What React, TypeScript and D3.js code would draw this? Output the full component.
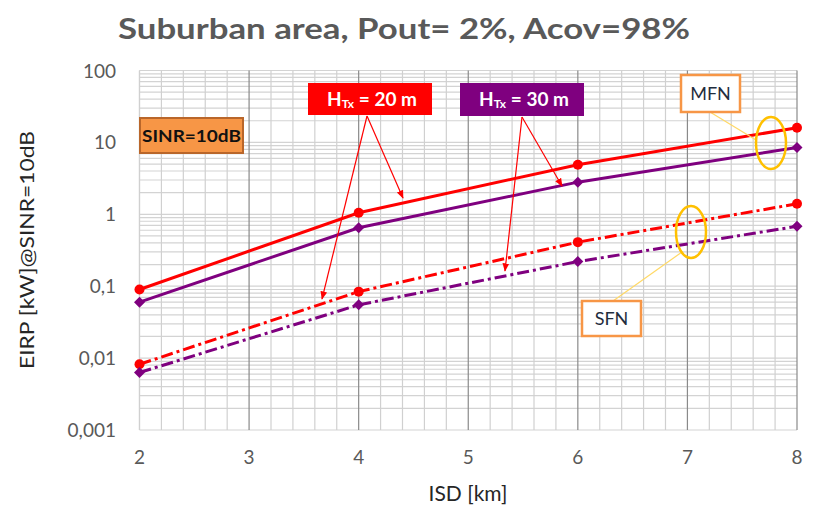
import React from "react";
import * as d3 from "d3";

const isd = [2, 4, 6, 8];
const mfn20 = [0.09, 1.05, 4.9, 16];
const mfn30 = [0.06, 0.65, 2.8, 8.5];
const sfn20 = [0.0082, 0.084, 0.41, 1.4];
const sfn30 = [0.0063, 0.055, 0.22, 0.68];
const xTicks = [2, 3, 4, 5, 6, 7, 8];
const yTicks = [100, 10, 1, 0.1, 0.01, 0.001];
const yTickLabels = ["100", "10", "1", "0,1", "0,01", "0,001"];

const W = 814, H = 505;
const left = 139.5, right = 797, top = 70.5, bottom = 430;

export default function App() {
  const x = d3.scaleLinear().domain([2, 8]).range([left, right]);
  const y = d3.scaleLog().domain([0.001, 100]).range([bottom, top]);
  const line = d3.line<number>().x((_, i) => x(isd[i])).y((d) => y(d));

  const minorX = d3.range(2, 8.001, 0.2).map((v) => +v.toFixed(1));
  const minorY: number[] = [];
  for (let e = -3; e < 2; e++) for (let k = 1; k <= 9; k++) minorY.push(k * Math.pow(10, e));
  minorY.push(100);

  const red = "#ff0000";
  const purple = "#7f007f";
  const dashDot = "12 4 3 4";
  const diamond = (cx: number, cy: number, s: number) =>
    `M${cx},${cy - s}L${cx + s},${cy}L${cx},${cy + s}L${cx - s},${cy}Z`;

  const series = [
    { v: mfn20, c: red, dash: undefined, m: "circle" },
    { v: mfn30, c: purple, dash: undefined, m: "diamond" },
    { v: sfn20, c: red, dash: dashDot, m: "circle" },
    { v: sfn30, c: purple, dash: dashDot, m: "diamond" },
  ];

  const font = "Lato, 'Open Sans', sans-serif";

  return (
    <svg width={W} height={H} style={{ position: "absolute", left: 0, top: 0, background: "#fff" }}>
      <defs>
        <marker id="arr" viewBox="0 0 10 10" refX="9" refY="5" markerWidth="7" markerHeight="7" orient="auto">
          <path d="M0,1L10,5L0,9Z" fill={red} />
        </marker>
      </defs>
      <rect width={W} height={H} fill="#fff" />
      <text x={404} y={39} textAnchor="middle" fontFamily={font} fontWeight={700} fontSize={28}
        fill="#595959" textLength={572} lengthAdjust="spacingAndGlyphs">
        Suburban area, Pout= 2%, Acov=98%
      </text>

      {/* grid */}
      {minorY.map((v, i) => (
        <line key={"hy" + i} x1={left} x2={right} y1={y(v)} y2={y(v)} stroke="#d3d3d3" strokeWidth={1.2} />
      ))}
      {minorX.map((v, i) => (
        <line key={"vx" + i} x1={x(v)} x2={x(v)} y1={top} y2={bottom}
          stroke={Math.abs(v - Math.round(v)) < 1e-6 && v > 2 ? "#8a8a8a" : "#d0d0d0"} strokeWidth={1.2} />
      ))}
      <line x1={left} x2={left} y1={top} y2={bottom} stroke="#d0d0d0" strokeWidth={1.2} />

      {/* y ticks */}
      {yTicks.map((v, i) => (
        <text key={"yt" + i} x={116} y={y(v) + 7} textAnchor="end" fontFamily={font} fontSize={19} fill="#595959">
          {yTickLabels[i]}
        </text>
      ))}
      {xTicks.map((v) => (
        <text key={"xt" + v} x={x(v)} y={464} textAnchor="middle" fontFamily={font} fontSize={19} fill="#595959">
          {v}
        </text>
      ))}
      <text x={468} y={501} textAnchor="middle" fontFamily={font} fontSize={21} fill="#262626">ISD [km]</text>
      <text transform="translate(34,250) rotate(-90)" textAnchor="middle" fontFamily={font} fontSize={20}
        fill="#262626" textLength={238} lengthAdjust="spacingAndGlyphs">
        EIRP [kW]@SINR=10dB
      </text>

      {/* series */}
      {series.map((s, si) => (
        <g key={"s" + si}>
          <path d={line(s.v) || ""} fill="none" stroke={s.c} strokeWidth={3} strokeDasharray={s.dash} />
          {s.v.map((d, i) =>
            s.m === "circle" ? (
              <circle key={i} cx={x(isd[i])} cy={y(d)} r={5} fill={s.c} />
            ) : (
              <path key={i} d={diamond(x(isd[i]), y(d), 5.5)} fill={s.c} />
            )
          )}
        </g>
      ))}

      {/* SINR box */}
      <rect x={140} y={118} width={103} height={35} fill="#f79646" stroke="#b9662a" strokeWidth={2} />
      <text x={191.5} y={142} textAnchor="middle" fontFamily={font} fontWeight={700} fontSize={17} fill="#111"
        textLength={99} lengthAdjust="spacingAndGlyphs">
        SINR=10dB
      </text>

      {/* HTx boxes */}
      <rect x={308} y={83} width={124} height={32} fill={red} />
      <text x={372} y={106} textAnchor="middle" fontFamily={font} fontWeight={700} fontSize={19} fill="#fff">
        H<tspan fontSize={12} dy={2}>Tx</tspan><tspan dy={-2}> = 20 m</tspan>
      </text>
      <rect x={460} y={83} width={124} height={33} fill={purple} />
      <text x={524} y={106} textAnchor="middle" fontFamily={font} fontWeight={700} fontSize={19} fill="#fff">
        H<tspan fontSize={12} dy={2}>Tx</tspan><tspan dy={-2}> = 30 m</tspan>
      </text>

      {/* arrows */}
      <line x1={367} y1={116} x2={403} y2={198} stroke={red} strokeWidth={1.2} markerEnd="url(#arr)" />
      <line x1={367} y1={116} x2={322} y2={299} stroke={red} strokeWidth={1.2} markerEnd="url(#arr)" />
      <line x1={522} y1={117} x2={562} y2={186} stroke={red} strokeWidth={1.2} markerEnd="url(#arr)" />
      <line x1={522} y1={117} x2={505} y2={271} stroke={red} strokeWidth={1.2} markerEnd="url(#arr)" />

      {/* MFN */}
      <line x1={710} y1={112} x2={756} y2={140} stroke="#ffd966" strokeWidth={1.2} />
      <ellipse cx={771} cy={143} rx={15} ry={26} fill="none" stroke="#ffc000" strokeWidth={2.5} />
      <rect x={681} y={75} width={59} height={37} fill="#fff" stroke="#f79646" strokeWidth={2.5} />
      <text x={710.5} y={100} textAnchor="middle" fontFamily={font} fontSize={18} fill="#1f2d3d">MFN</text>

      {/* SFN */}
      <line x1={613} y1={301} x2={682} y2={252} stroke="#ffd966" strokeWidth={1.2} />
      <ellipse cx={691} cy={232} rx={15} ry={26} fill="none" stroke="#ffc000" strokeWidth={2.5} />
      <rect x={582} y={301} width={59} height={35} fill="#fff" stroke="#f79646" strokeWidth={2.5} />
      <text x={611.5} y={325} textAnchor="middle" fontFamily={font} fontSize={18} fill="#1f2d3d">SFN</text>
    </svg>
  );
}
